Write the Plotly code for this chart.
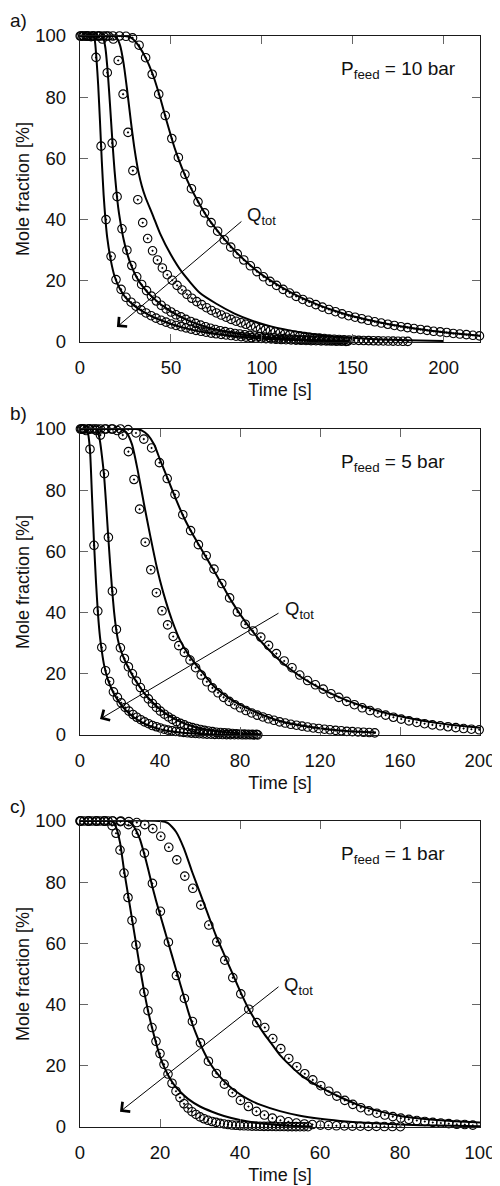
import plotly.graph_objects as go

# ---------------- Panel a) P_feed = 10 bar ----------------
a_s1_t = [0.6, 3.3, 6.1, 8.8, 11.6, 14.3, 17.1, 19.8, 22.6, 25.3, 28.1, 30.8, 33.6, 36.3, 39.1, 41.8, 44.6, 47.3, 50.1, 52.8,
          55.6, 58.3, 61.1, 63.8, 66.6, 69.3, 72.1, 74.8, 77.6, 80.3, 83.1, 85.8, 88.6, 91.3, 94.1, 96.8, 99.6, 102.3, 105.1, 107.8,
          110.6, 113.3, 116.1, 118.8, 121.6, 124.3, 127.1, 129.8, 132.6, 135.3, 138.1, 140.8, 143.6, 146.3]
a_s1_v = [100, 100, 99.8, 93, 64, 40, 28, 20.4, 17.2, 14.6, 13, 11.7, 10.5, 9.5, 8.6, 7.8, 7.1, 6.5, 5.9, 5.4,
          5, 4.6, 4.2, 3.8, 3.5, 3.2, 2.9, 2.7, 2.5, 2.3, 2.1, 1.9, 1.75, 1.6, 1.45, 1.3, 1.2, 1.1, 1.0, 0.9,
          0.82, 0.75, 0.68, 0.62, 0.56, 0.5, 0.46, 0.42, 0.38, 0.34, 0.31, 0.28, 0.25, 0.22]
a_s2_t = [1.5, 4.2, 6.9, 9.6, 12.3, 15, 17.7, 20.4, 23.1, 25.8, 28.5, 31.2, 33.9, 36.6, 39.3, 42, 44.7, 47.4, 50.1, 52.8,
          55.5, 58.2, 60.9, 63.6, 66.3, 69, 71.7, 74.4, 77.1, 79.8, 82.5, 85.2, 87.9, 90.6, 93.3, 96, 98.7, 101.4, 104.1, 106.8,
          109.5, 112.2, 114.9, 117.6, 120.3, 123, 125.7, 128.4, 131.1, 133.8, 136.5, 139.2, 141.9, 144.6, 147.3]
a_s2_v = [100, 100, 100, 100, 99, 88, 65, 47.5, 37, 30, 25, 21.3, 18.8, 16.8, 15, 13.4, 12, 10.8, 9.8, 8.9,
          8.2, 7.4, 6.7, 6.1, 5.5, 5, 4.5, 4.1, 3.7, 3.4, 3.1, 2.8, 2.6, 2.35, 2.15, 1.95, 1.8, 1.65, 1.5, 1.35,
          1.22, 1.1, 1.0, 0.9, 0.82, 0.75, 0.68, 0.62, 0.56, 0.51, 0.46, 0.42, 0.38, 0.34, 0.3]
a_s3_t = [2.1, 4.8, 7.5, 10.2, 12.9, 15.6, 18.3, 21, 23.7, 26.4, 29.1, 31.8, 34.5, 37.2, 39.9, 42.6, 45.3, 48, 50.7, 53.4,
          56.1, 58.8, 61.5, 64.2, 66.9, 69.6, 72.3, 75, 77.7, 80.4, 83.1, 85.8, 88.5, 91.2, 93.9, 96.6, 99.3, 102, 104.7, 107.4,
          110.1, 112.8, 115.5, 118.2, 120.9, 123.6, 126.3, 129, 131.7, 134.4, 137.1, 139.8, 142.5, 145.2, 147.9, 150.6, 153.3,
          156, 158.7, 161.4, 164.1, 166.8, 169.5, 172.2, 174.9, 177.6, 180.3]
a_s3_v = [100, 100, 100, 100, 100, 100, 99, 92, 81, 68.5, 56, 46.5, 39, 33.8, 29.8, 26.8, 24.2, 22, 20.2, 18.5,
          17, 15.6, 14.3, 13.2, 12.2, 11.2, 10.3, 9.5, 8.8, 8.1, 7.4, 6.8, 6.3, 5.8, 5.3, 4.9, 4.4, 4.0, 3.7, 3.3,
          3.0, 2.7, 2.45, 2.2, 1.95, 1.75, 1.55, 1.4, 1.25, 1.12, 1.0, 0.9, 0.82, 0.74, 0.66, 0.6, 0.54,
          0.49, 0.45, 0.41, 0.37, 0.34, 0.31, 0.28, 0.25, 0.23, 0.21]
a_s4_t = [0.1, 3.7, 7.3, 10.9, 14.5, 18.1, 21.7, 25.3, 28.9, 32.5, 36.1, 39.7, 43.3, 46.9, 50.5, 54.1, 57.7, 61.3, 64.9, 68.5,
          72.1, 75.7, 79.3, 82.9, 86.5, 90.1, 93.7, 97.3, 100.9, 104.5, 108.1, 111.7, 115.3, 118.9, 122.5, 126.1, 129.7, 133.3,
          136.9, 140.5, 144.1, 147.7, 151.3, 154.9, 158.5, 162.1, 165.7, 169.3, 172.9, 176.5, 180.1, 183.7, 187.3, 190.9, 194.5,
          198.1, 201.7, 205.3, 208.9, 212.5, 216.1, 219.7]
a_s4_v = [100, 100, 100, 100, 100, 100, 100, 99.9, 99.4, 97, 92.9, 87.5, 81, 74, 66.5, 60.3, 54.8, 50.1, 45.8, 42.2,
          39, 36.2, 33.4, 31, 28.8, 26.8, 24.9, 23, 21.3, 19.8, 18.5, 17.2, 16, 14.9, 13.9, 13, 12.2, 11.4,
          10.6, 9.9, 9.2, 8.6, 8.1, 7.6, 7.1, 6.6, 6.2, 5.8, 5.4, 5.0, 4.7, 4.4, 4.1, 3.8, 3.5,
          3.3, 3.1, 2.8, 2.6, 2.4, 2.2, 2.0]
a_l1_t = [0, 7, 8, 9, 10, 11, 12, 13, 14, 15, 17, 19, 22, 25, 30, 35, 40, 50, 60, 70, 80, 90, 100, 120, 148]
a_l1_v = [100, 100, 99, 93, 84, 72, 59, 48, 40, 34, 26.5, 21.5, 17.3, 14.6, 11.8, 9.8, 8.2, 5.9, 4.2, 3.0, 2.2, 1.6, 1.1, 0.6, 0.2]
a_l2_t = [0, 12, 13, 14, 15, 16, 17, 18, 19, 20, 21, 22, 24, 26, 28, 31, 34, 40, 50, 60, 70, 80, 90, 100, 120, 148]
a_l2_v = [100, 100, 99, 96, 90, 82, 73, 64, 56, 49.5, 44, 40, 33.5, 28.8, 25.3, 21.3, 18.5, 14.5, 10, 6.9, 4.8, 3.4, 2.4, 1.7, 0.8, 0.3]
a_l3_t = [0, 18, 20, 22, 24, 26, 28, 30, 32, 34, 36, 40, 44, 50, 56, 66, 75, 85, 95, 105, 120, 140, 160, 180, 200]
a_l3_v = [100, 100, 99.5, 97, 91, 82, 72, 63, 56, 51, 47.3, 41.5, 35.5, 28.5, 22.9, 16, 12.5, 9.3, 6.9, 5.1, 3.3, 1.8, 1.0, 0.6, 0.35]
a_l4_t = [0, 25, 28, 30, 32, 36, 40, 44, 48, 52, 56, 60, 65, 70, 75, 80, 86, 93, 100, 110, 120, 130, 140, 150, 160, 170,
          180, 190, 200, 210, 220]
a_l4_v = [100, 100, 99.5, 98.5, 97, 93, 87.5, 80, 71.5, 63.5, 57, 51.5, 45.8, 40.8, 36.8, 33.2, 29.3, 25.4, 22, 18.2, 15,
          12.4, 10.2, 8.4, 7, 5.8, 4.8, 3.9, 3.2, 2.6, 2.0]

# ---------------- Panel b) P_feed = 5 bar ----------------
b_s1_t = [1.1, 3.1, 5, 7, 8.9, 10.9, 12.8, 14.8, 16.7, 18.7, 20.6, 22.6, 24.5, 26.5, 28.4, 30.4, 32.3, 34.3, 36.2, 38.2,
          40.1, 42.1, 44, 46, 47.9, 49.9, 51.8, 53.8, 55.7, 57.7, 59.6, 61.6, 63.5, 65.5, 67.4, 69.4, 71.3, 73.3, 75.2, 77.2,
          79.1, 81.1, 83, 85, 86.9, 88.9]
b_s1_v = [100, 99.5, 93.4, 62, 40.5, 28.6, 21, 17.5, 14.1, 12.3, 10.5, 9, 7.8, 6.7, 5.8, 5, 4.3, 3.7, 3.1, 2.7,
          2.3, 1.9, 1.6, 1.4, 1.2, 1.0, 0.85, 0.72, 0.6, 0.5, 0.42, 0.36, 0.3, 0.25, 0.21, 0.18, 0.15, 0.13, 0.11, 0.1,
          0.09, 0.08, 0.07, 0.06, 0.05, 0.05]
b_s2_t = [0.2, 2.2, 4.2, 6.2, 8.2, 10.2, 12.2, 14.2, 16.2, 18.2, 20.2, 22.2, 24.2, 26.2, 28.2, 30.2, 32.2, 34.2, 36.2, 38.2,
          40.2, 42.2, 44.2, 46.2, 48.2, 50.2, 52.2, 54.2, 56.2, 58.2, 60.2, 62.2, 64.2, 66.2, 68.2, 70.2, 72.2, 74.2, 76.2, 78.2,
          80.2, 82.2, 84.2, 86.2, 88.2]
b_s2_v = [100, 100, 100, 100, 99.5, 98, 85.4, 64.6, 47, 34.5, 28.5, 25, 22.3, 20, 17.6, 15.5, 13.5, 11.8, 10.3, 9,
          7.8, 6.8, 5.9, 5.1, 4.4, 3.8, 3.3, 2.8, 2.4, 2.1, 1.8, 1.5, 1.3, 1.1, 0.9, 0.8, 0.7, 0.6, 0.5, 0.4,
          0.35, 0.3, 0.25, 0.2, 0.2]
b_s3_t = [1.8, 4.6, 7.4, 10.2, 13, 15.8, 18.6, 21.4, 24.2, 27, 29.8, 32.6, 35.4, 38.2, 41, 43.8, 46.6, 49.4, 52.2, 55,
          57.8, 60.6, 63.4, 66.2, 69, 71.8, 74.6, 77.4, 80.2, 83, 85.8, 88.6, 91.4, 94.2, 97, 99.8, 102.6, 105.4, 108.2, 111,
          113.8, 116.6, 119.4, 122.2, 125, 127.8, 130.6, 133.4, 136.2, 139, 141.8, 144.6, 147.4]
b_s3_v = [100, 100, 100, 100, 100, 100, 99.5, 98, 92.6, 83.5, 73.8, 63, 54, 46.5, 40.6, 36, 32.2, 29.2, 27, 24.5,
          22, 19.6, 17.4, 15.4, 13.8, 12.3, 11, 9.9, 8.9, 8, 7.2, 6.5, 5.9, 5.3, 4.8, 4.3, 3.9, 3.5, 3.2, 2.9,
          2.6, 2.3, 2.1, 1.9, 1.7, 1.5, 1.4, 1.2, 1.1, 1.0, 0.9, 0.8, 0.7]
b_s4_t = [0.7, 4.6, 8.5, 12.4, 16.3, 20.2, 24.1, 28, 31.9, 35.8, 39.7, 43.6, 47.5, 51.4, 55.3, 59.2, 63.1, 67, 70.9, 74.8,
          78.7, 82.6, 86.5, 90.4, 94.3, 98.2, 102.1, 106, 109.9, 113.8, 117.7, 121.6, 125.5, 129.4, 133.3, 137.2, 141.1, 145,
          148.9, 152.8, 156.7, 160.6, 164.5, 168.4, 172.3, 176.2, 180.1, 184, 187.9, 191.8, 195.7, 199.6]
b_s4_v = [100, 100, 100, 100, 100, 100, 99.8, 98.7, 96.7, 93.8, 89, 83.8, 78.6, 72, 66.8, 62.2, 58.6, 54.2, 49.5, 44.8,
          40.2, 36.2, 34, 32, 29.3, 26.6, 24.2, 22, 19.6, 17.8, 16.4, 15, 13.5, 12.3, 11, 9.9, 8.9, 8,
          7.2, 6.5, 5.8, 5.2, 4.6, 4.1, 3.7, 3.3, 3, 2.7, 2.4, 2.1, 1.9, 1.7]
b_l1_t = [0, 3, 4, 5, 6, 7, 8, 9, 10, 11, 12, 14, 16, 18, 20, 22, 25, 28, 32, 36, 40, 45, 50, 60, 70, 80, 90]
b_l1_v = [100, 100, 98.5, 93, 78, 63, 50, 39.5, 32, 27, 23, 18, 14.8, 12.3, 10.3, 8.7, 6.8, 5.3, 3.8, 2.7, 1.9, 1.2, 0.8,
          0.35, 0.15, 0.06, 0.02]
b_l2_t = [0, 8, 9, 10, 11, 12, 13, 14, 15, 16, 17, 18, 19, 20, 22, 24, 26, 28, 30, 32, 35, 40, 45, 50, 55, 60, 65, 70, 80, 90]
b_l2_v = [100, 100, 99, 96, 91, 85, 76, 66, 56.5, 48, 40.5, 35, 31, 28.5, 25, 22.2, 19.8, 17.6, 15.6, 13.8, 11.5, 8.4,
          6.1, 4.4, 3.1, 2.2, 1.6, 1.1, 0.55, 0.25]
b_l3_t = [0, 20, 23, 26, 29, 32, 35, 38, 40, 43, 46, 50, 54, 58, 62, 66, 70, 75, 80, 90, 100, 110, 120, 130, 140, 148]
b_l3_v = [100, 100, 99, 95, 86, 75.5, 65.5, 56, 50.5, 43.5, 37.5, 31, 26.5, 23, 19.8, 16.6, 14.2, 11.8, 9.9, 6.9, 4.6,
          3.2, 2.2, 1.5, 1.05, 0.8]
b_l4_t = [0, 28, 31, 34, 37, 40, 44, 48, 52, 56, 60, 64, 68, 72, 76, 80, 84, 88, 92, 96, 100, 110, 120, 130, 140, 150,
          160, 170, 180, 190, 200]
b_l4_v = [100, 100, 99.5, 98, 95, 90, 83.5, 77, 71, 66, 61.5, 57, 52.5, 48, 43.5, 39.5, 35.8, 32.5, 29.5, 26.8, 24.3,
          19.2, 15.3, 12.2, 9.7, 7.7, 6.1, 4.8, 3.8, 3.0, 2.4]

# ---------------- Panel c) P_feed = 1 bar ----------------
c_s1_t = [0, 1, 2, 3, 4, 5, 6, 7, 8, 9, 10, 11, 12, 13, 14, 15, 16, 17, 18, 19, 20, 21, 22, 23, 24, 25, 26, 27, 28, 29,
          30, 31, 32, 33, 34, 35, 36, 37, 38, 39, 40, 41, 42, 43, 44, 45, 46, 47, 48, 49, 50, 51, 52, 53, 54, 55, 56, 57]
c_s1_v = [100, 100, 100, 100, 100, 100, 100, 100, 98.5, 96, 90.5, 83, 75, 67.5, 59.5, 51.8, 44, 38, 32.5, 28,
          24, 20.5, 17.3, 14.3, 11.7, 9.6, 7.6, 6.2, 5.0, 4.1, 3.3, 2.7, 2.2, 1.8, 1.5, 1.2, 1.0, 0.8, 0.65, 0.55,
          0.45, 0.4, 0.35, 0.3, 0.27, 0.24, 0.22, 0.2, 0.18, 0.16, 0.15, 0.14, 0.13, 0.12, 0.11, 0.1, 0.1, 0.1]
c_s2_t = [0.1, 2.1, 4.1, 6.1, 8.1, 10.1, 12.1, 14.1, 16.1, 18.1, 20.1, 22.1, 24.1, 26.1, 28.1, 30.1, 32.1, 34.1, 36.1, 38.1,
          40.1, 42.1, 44.1, 46.1, 48.1, 50.1, 52.1, 54.1, 56.1, 58.1, 60.1, 62.1, 64.1, 66.1, 68.1, 70.1, 72.1, 74.1, 76.1,
          78.1, 80.1]
c_s2_v = [100, 100, 100, 100, 100, 99.8, 98.8, 96, 89.5, 79.6, 70.5, 60.4, 49.5, 42, 34.5, 27.5, 21.5, 17.5, 14, 11.2,
          8.7, 6.7, 5.1, 3.9, 2.9, 2.2, 1.7, 1.3, 1.0, 0.8, 0.6, 0.5, 0.4, 0.35, 0.3, 0.25, 0.2, 0.2, 0.15, 0.15, 0.1]
c_s3_t = [0.2, 2.2, 4.2, 6.2, 8.2, 10.2, 12.2, 14.2, 16.2, 18.2, 20.2, 22.2, 24.2, 26.2, 28.2, 30.2, 32.2, 34.2, 36.2, 38.2,
          40.2, 42.2, 44.2, 46.2, 48.2, 50.2, 52.2, 54.2, 56.2, 58.2, 60.2, 62.2, 64.2, 66.2, 68.2, 70.2, 72.2, 74.2, 76.2,
          78.2, 80.2, 82.2, 84.2, 86.2, 88.2, 90.2, 92.2, 94.2, 96.2, 98.2]
c_s3_v = [100, 100, 100, 100, 100, 100, 99.8, 99.5, 98.8, 97.5, 95, 91.4, 87.3, 82, 78, 72.5, 66, 60.5, 54.5, 48.8,
          43.5, 38.5, 34.1, 32.5, 28.9, 25.6, 22.4, 19.7, 17.4, 15.4, 13.5, 11.7, 10.1, 8.7, 7.4, 6.3, 5.3, 4.5, 3.9,
          3.4, 2.9, 2.5, 2.1, 1.8, 1.5, 1.3, 1.1, 0.9, 0.8, 0.6]
c_l1_t = [0, 8, 9, 10, 11, 12, 13, 14, 15, 16, 17, 18, 19, 20, 21, 22, 23, 24, 25, 27, 30, 33, 36, 40, 45, 50, 58]
c_l1_v = [100, 100, 98, 93, 84, 76, 68, 60, 52, 44.5, 38, 32.5, 27.5, 23, 19.7, 17, 14.8, 13, 11.6, 9.2, 6.7, 5, 3.6,
          2.3, 1.2, 0.6, 0.2]
c_l2_t = [0, 12, 13, 14, 15, 16, 17, 18, 19, 20, 21, 22, 23, 24, 25, 26, 27, 28, 29, 30, 31, 32, 34, 36, 38, 40, 42, 45,
          50, 55, 60, 65, 70, 80, 90, 100]
c_l2_v = [100, 100, 99, 97, 94, 89.5, 84.5, 79, 74, 69.5, 65, 60.5, 56, 51.5, 47, 42.5, 38, 34, 30.5, 27.3, 24.5, 22,
          18, 15, 12.6, 10.7, 9.1, 7.3, 5.2, 3.7, 2.7, 2, 1.5, 0.8, 0.45, 0.25]
c_l3_t = [0, 20, 22, 24, 26, 28, 30, 32, 34, 36, 38, 40, 42, 44, 46, 48, 50, 52, 55, 60, 65, 70, 75, 80, 85, 90, 95, 100]
c_l3_v = [100, 100, 99.3, 96.5, 91, 83.5, 76.5, 69.5, 62.5, 56.5, 50.5, 44.5, 39, 34.5, 30.5, 27, 23.5, 20.8, 17.2, 13,
          9.8, 7, 5.1, 3.6, 2.8, 2.2, 1.8, 1.5]

x_ranges = [[0, 220], [0, 200], [0, 100]]
x_ticks = [[0, 50, 100, 150, 200], [0, 40, 80, 120, 160, 200], [0, 20, 40, 60, 80, 100]]
y_ticks = [0, 20, 40, 60, 80, 100]
panel_labels = ["a)", "b)", "c)"]
pressure_labels = ["P<sub>feed</sub> = 10 bar", "P<sub>feed</sub> = 5 bar", "P<sub>feed</sub> = 1 bar"]
x_title = "Time [s]"
y_title = "Mole fraction [%]"

panels = [
    dict(series=[(a_s1_t, a_s1_v), (a_s2_t, a_s2_v), (a_s3_t, a_s3_v), (a_s4_t, a_s4_v)],
         lines=[(a_l1_t, a_l1_v), (a_l2_t, a_l2_v), (a_l3_t, a_l3_v), (a_l4_t, a_l4_v)],
         arrow=((20.3, 4.9), (89.6, 39.8)), q=(90.7, 41.1)),
    dict(series=[(b_s1_t, b_s1_v), (b_s2_t, b_s2_v), (b_s3_t, b_s3_v), (b_s4_t, b_s4_v)],
         lines=[(b_l1_t, b_l1_v), (b_l2_t, b_l2_v), (b_l3_t, b_l3_v), (b_l4_t, b_l4_v)],
         arrow=((10, 5.2), (100, 40.1)), q=(101.5, 40.7)),
    dict(series=[(c_s1_t, c_s1_v), (c_s2_t, c_s2_v), (c_s3_t, c_s3_v)],
         lines=[(c_l1_t, c_l1_v), (c_l2_t, c_l2_v), (c_l3_t, c_l3_v)],
         arrow=((10, 5.0), (50, 46.2)), q=(50.5, 46.2)),
]

FONT = "Liberation Sans, Arial, sans-serif"
TXT = "#111111"
OFF = 8  # the page body adds an 8 px margin on the top and left
W, H = 500 - OFF, 1186 - OFF
ML, MR, MT, MB = 80 - OFF, 20, 36 - OFF, 1186 - 1127
plot_h = H - MT - MB
# page-pixel rows (top, bottom) of each panel's plot area
rows_px = [(36, 342), (429, 735), (821, 1127)]
domains = [[(1127 - b) / plot_h, (1127 - t) / plot_h] for (t, b) in rows_px]

fig = go.Figure()
annotations = []
layout_axes = {}
for i, p in enumerate(panels):
    sfx = "" if i == 0 else str(i + 1)
    xa, ya = "x" + sfx, "y" + sfx
    for (t, v) in p["lines"]:
        fig.add_trace(go.Scatter(x=t, y=v, mode="lines", xaxis=xa, yaxis=ya,
                                 line=dict(color="black", width=2, shape="spline", smoothing=0.6),
                                 showlegend=False, hoverinfo="skip"))
    for (t, v) in p["series"]:
        fig.add_trace(go.Scatter(x=t, y=v, mode="markers", xaxis=xa, yaxis=ya, cliponaxis=False,
                                 marker=dict(symbol="circle-open-dot", size=8.5, color="black",
                                             line=dict(width=1.1, color="black")),
                                 showlegend=False, hoverinfo="skip"))
    common = dict(showline=True, linecolor="#1a1a1a", linewidth=1.3, mirror="ticks", ticks="inside",
                  ticklen=8, tickwidth=1, tickcolor="#666666", showgrid=False, zeroline=False,
                  tickfont=dict(family=FONT, size=18.5, color=TXT))
    layout_axes["xaxis" + sfx] = dict(common, domain=[0, 1], anchor=ya, range=x_ranges[i],
                                      tickmode="array", tickvals=x_ticks[i], ticklabelstandoff=9,
                                      title=dict(text=x_title, font=dict(family=FONT, size=18, color=TXT), standoff=6))
    layout_axes["yaxis" + sfx] = dict(common, domain=domains[i], anchor=xa, range=[0, 100],
                                      tickmode="array", tickvals=y_ticks, ticklabelstandoff=9,
                                      title=dict(text=y_title, font=dict(family=FONT, size=18, color=TXT), standoff=0))
    # panel label
    t_px = rows_px[i][0]
    annotations.append(dict(text=panel_labels[i], xref="paper", yref="paper",
                            x=(8 - 80) / 400, y=(1127 - (t_px - 15)) / plot_h,
                            xanchor="left", yanchor="middle", showarrow=False,
                            font=dict(family=FONT, size=19, color=TXT)))
    # pressure label
    annotations.append(dict(text=pressure_labels[i], xref=xa + " domain", yref=ya + " domain",
                            x=0.648, y=0.889, xanchor="left", yanchor="middle", showarrow=False,
                            font=dict(family=FONT, size=19, color=TXT)))
    # Q_tot arrow
    (hx, hy), (tx, ty) = p["arrow"]
    annotations.append(dict(text="", x=hx, y=hy, ax=tx, ay=ty, xref=xa, yref=ya, axref=xa, ayref=ya,
                            showarrow=True, arrowhead=4, arrowsize=2.4, arrowwidth=1, arrowcolor="black",
                            standoff=0, startstandoff=0))
    qx, qy = p["q"]
    annotations.append(dict(text="Q<sub>tot</sub>", x=qx, y=qy, xref=xa, yref=ya, xanchor="left",
                            yanchor="middle", showarrow=False, font=dict(family=FONT, size=18.5, color=TXT)))

fig.update_layout(width=W, height=H, margin=dict(l=ML, r=MR, t=MT, b=MB, autoexpand=False),
                  paper_bgcolor="white", plot_bgcolor="white", showlegend=False,
                  font=dict(family=FONT, color=TXT), annotations=annotations, **layout_axes)

fig.write_html("out.html")
